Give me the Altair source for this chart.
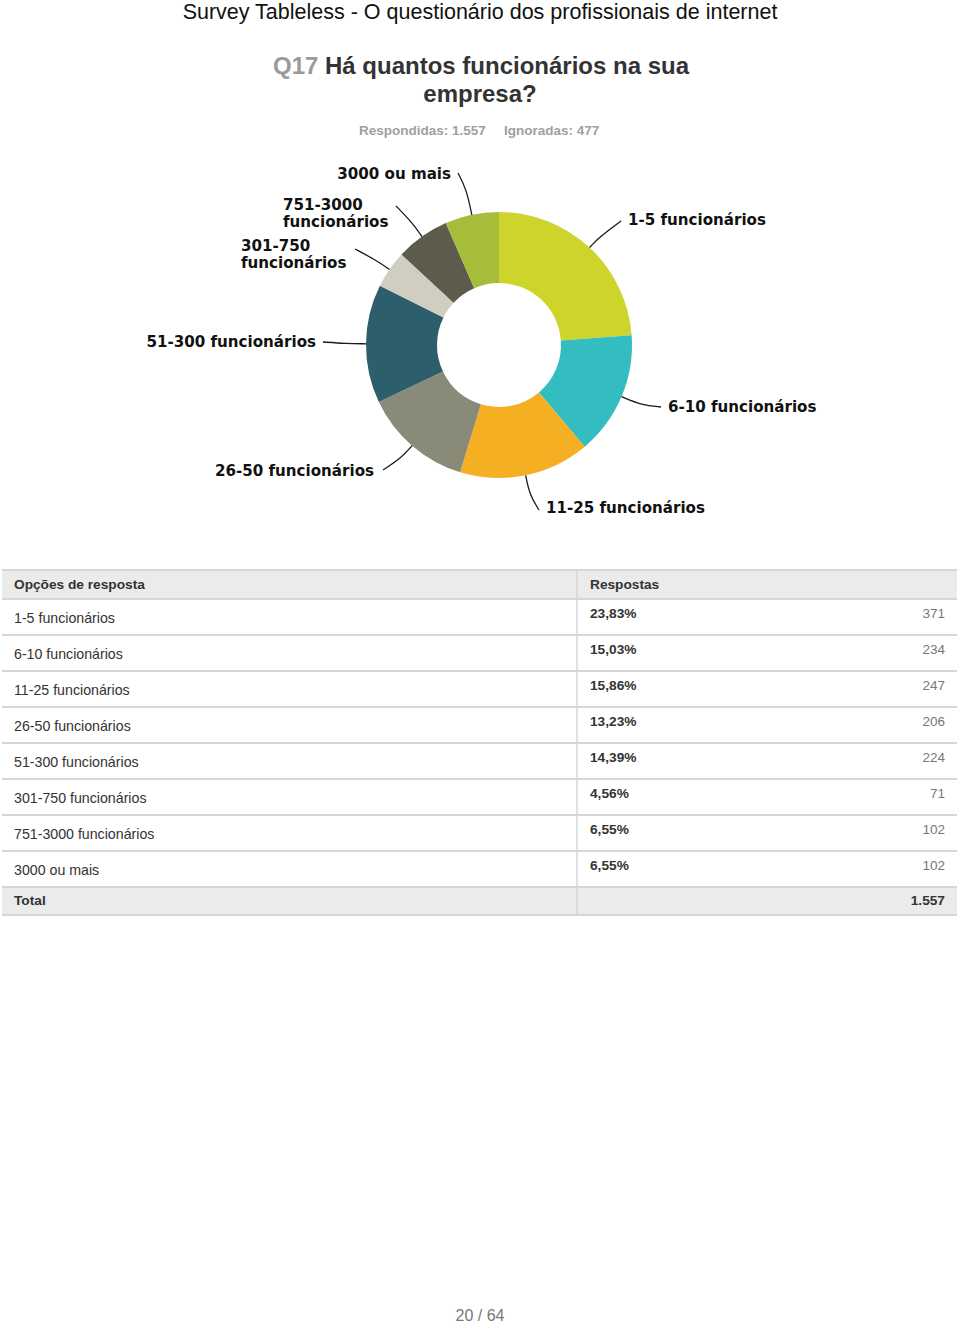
import altair as alt
import pandas as pd
import numpy as np

# ---------------- data ----------------
categories = ["1-5 funcionários", "6-10 funcionários", "11-25 funcionários",
              "26-50 funcionários", "51-300 funcionários", "301-750 funcionários",
              "751-3000 funcionários", "3000 ou mais"]
percent_labels = ["23,83%", "15,03%", "15,86%", "13,23%", "14,39%", "4,56%", "6,55%", "6,55%"]
counts = [371, 234, 247, 206, 224, 71, 102, 102]
total_label = "1.557"
chart_labels = ["1-5 funcionários", "6-10 funcionários", "11-25 funcionários",
                "26-50 funcionários", "51-300 funcionários", "301-750\nfuncionários",
                "751-3000\nfuncionários", "3000 ou mais"]
colors = ["#CDD42C", "#34BDC0", "#F5AF22", "#898A78", "#2D5E6C", "#CFCEC1", "#5D5B4C", "#A6BC3B"]

# ---------------- layout (pixels) ----------------
W, H = 960, 1323
CX, CY, R_OUT, R_IN = 499, 345, 133, 62
# label anchor (x, y of first line, align) and leader-line end point for each slice
label_layout = [
    (628, 220, "left", 621, 221),
    (668, 407, "left", 661, 407),
    (546, 508, "left", 539, 510),
    (374, 471, "right", 383, 470),
    (316, 342, "right", 323, 342),
    (241, 246, "left", 355, 249),
    (283, 205, "left", 396, 206),
    (451, 174, "right", 458, 173),
]
ctrl_len = [14, 22, 20, 16, 20, 16, 18, 26]

xs = alt.Scale(domain=[0, W], range=[0, W])
ys = alt.Scale(domain=[0, H], range=[0, H])

# ---------------- donut ----------------
pie_df = pd.DataFrame({"cat": categories, "count": counts, "order": list(range(len(counts)))})
donut = alt.Chart(pie_df).mark_arc(outerRadius=R_OUT, innerRadius=R_IN).encode(
    theta=alt.Theta("count:Q", stack=True),
    color=alt.Color("cat:N", scale=alt.Scale(domain=categories, range=colors), legend=None),
    order=alt.Order("order:Q"),
    x=alt.value(CX), y=alt.value(CY),
)

# leader lines computed from slice mid-angles
cnt = np.array(counts, dtype=float)
cum = np.cumsum(cnt) - cnt / 2
mid = cum / cnt.sum() * 2 * np.pi
rows = []
for i, a in enumerate(mid):
    sx, sy = CX + R_OUT * np.sin(a), CY - R_OUT * np.cos(a)
    mx, my = CX + (R_OUT + ctrl_len[i]) * np.sin(a), CY - (R_OUT + ctrl_len[i]) * np.cos(a)
    ex, ey = label_layout[i][3], label_layout[i][4]
    rows += [dict(cat=categories[i], k=0, px=sx, py=sy),
             dict(cat=categories[i], k=1, px=mx, py=my),
             dict(cat=categories[i], k=2, px=ex, py=ey)]
lines_df = pd.DataFrame(rows)
leaders = alt.Chart(lines_df).mark_line(interpolate="basis", color="#1a1a1a", strokeWidth=1.3).encode(
    x=alt.X("px:Q", scale=xs, axis=None),
    y=alt.Y("py:Q", scale=ys, axis=None),
    detail="cat:N", order="k:Q",
)

lab_df = pd.DataFrame({
    "label": chart_labels,
    "lx": [l[0] for l in label_layout],
    "ly": [l[1] for l in label_layout],
    "al": [l[2] for l in label_layout],
})
lab_layers = []
for al in ["left", "right"]:
    lab_layers.append(
        alt.Chart(lab_df).transform_filter(alt.datum.al == al).mark_text(
            align=al, baseline="middle", font="DejaVu Sans", fontWeight="bold",
            fontSize=15.1, color="#111111", lineBreak="\n", lineHeight=16.5,
        ).encode(
            x=alt.X("lx:Q", scale=xs, axis=None),
            y=alt.Y("ly:Q", scale=ys, axis=None),
            text="label:N",
        )
    )

# ---------------- table ----------------
T_LEFT, T_RIGHT, T_TOP, HEAD_H, ROW_H, COL_X = 2, 957, 570, 29, 36, 577
n = len(categories)
body_top = T_TOP + HEAD_H
tbl = pd.DataFrame({
    "cat": categories, "pct": percent_labels, "cnt": [str(c) for c in counts],
    "i": list(range(n)),
})
tbl["y0"] = body_top + tbl["i"] * ROW_H
tbl["ymid"] = tbl["y0"] + ROW_H / 2
total_top = body_top + n * ROW_H
total_bot = total_top + 28

bg_df = pd.DataFrame({"x0": [T_LEFT, T_LEFT], "x1": [T_RIGHT, T_RIGHT],
                      "y0": [T_TOP, total_top], "y1": [body_top, total_bot]})
bg = alt.Chart(bg_df).mark_rect(color="#EBEBEB").encode(
    x=alt.X("x0:Q", scale=xs, axis=None), x2="x1:Q",
    y=alt.Y("y0:Q", scale=ys, axis=None), y2="y1:Q",
)

hlines_y = [T_TOP] + [body_top + k * ROW_H for k in range(n + 1)] + [total_bot]
hl_df = pd.DataFrame({"y": hlines_y, "x0": T_LEFT, "x1": T_RIGHT})
hlines = alt.Chart(hl_df).mark_rule(color="#D6D6D6", strokeWidth=2).encode(
    x=alt.X("x0:Q", scale=xs, axis=None), x2="x1:Q",
    y=alt.Y("y:Q", scale=ys, axis=None),
)
vl_df = pd.DataFrame({"x": [COL_X], "y0": [T_TOP], "y1": [total_bot]})
vline = alt.Chart(vl_df).mark_rule(color="#D6D6D6", strokeWidth=1.5).encode(
    x=alt.X("x:Q", scale=xs, axis=None),
    y=alt.Y("y0:Q", scale=ys, axis=None), y2="y1:Q",
)

FONT = "Liberation Sans"
cat_text = alt.Chart(tbl).mark_text(align="left", baseline="middle", font=FONT,
                                    fontSize=14.2, color="#333333", dy=2).encode(
    x=alt.value(14),
    y=alt.Y("ymid:Q", scale=ys, axis=None),
    text="cat:N",
)
pct_text = alt.Chart(tbl).mark_text(align="left", baseline="middle", font=FONT,
                                    fontSize=13.7, fontWeight="bold", color="#333333", dy=-3).encode(
    x=alt.value(590),
    y=alt.Y("ymid:Q", scale=ys, axis=None),
    text="pct:N",
)
cnt_text = alt.Chart(tbl).mark_text(align="right", baseline="middle", font=FONT,
                                    fontSize=13.5, color="#777777", dy=-3).encode(
    x=alt.value(945),
    y=alt.Y("ymid:Q", scale=ys, axis=None),
    text="cnt:N",
)

head_df = pd.DataFrame({"t": ["Opções de resposta", "Respostas", "Total"],
                        "x": [14, 590, 14],
                        "y": [T_TOP + HEAD_H / 2, T_TOP + HEAD_H / 2, (total_top + total_bot) / 2]})
head_text = alt.Chart(head_df).mark_text(align="left", baseline="middle", font=FONT,
                                         fontSize=13.7, fontWeight="bold", color="#333333").encode(
    x=alt.X("x:Q", scale=xs, axis=None),
    y=alt.Y("y:Q", scale=ys, axis=None),
    text="t:N",
)
total_text = alt.Chart(pd.DataFrame({"t": [total_label]})).mark_text(
    align="right", baseline="middle", font=FONT, fontSize=13.7, fontWeight="bold", color="#333333").encode(
    x=alt.value(945), y=alt.value((total_top + total_bot) / 2), text="t:N")

# ---------------- page texts ----------------
def txt(s, x, y, size, color, weight="normal", align="center", font=FONT):
    return alt.Chart(pd.DataFrame({"t": [s]})).mark_text(
        align=align, baseline="middle", font=font, fontSize=size, fontWeight=weight, color=color
    ).encode(x=alt.value(x), y=alt.value(y), text="t:N")

page = [
    txt("Survey Tableless - O questionário dos profissionais de internet", 480, 13, 21.5, "#111111"),
    txt("Q17", 273, 67, 24, "#9A9A9A", "bold", "left"),
    txt("Há quantos funcionários na sua", 325, 67, 24, "#333333", "bold", "left"),
    txt("empresa?", 480, 95, 24, "#333333", "bold"),
    txt("Respondidas: 1.557", 359, 131, 13.5, "#A0A0A0", "bold", "left"),
    txt("Ignoradas: 477", 504, 131, 13.5, "#A0A0A0", "bold", "left"),
    txt("20 / 64", 480, 1316, 16, "#777777"),
]

chart = alt.layer(
    bg, hlines, vline, donut, leaders, *lab_layers,
    cat_text, pct_text, cnt_text, head_text, total_text, *page,
).properties(
    width=W, height=H, padding=0, background="white",
    autosize=alt.AutoSizeParams(type="none"),
).configure_view(stroke=None, strokeWidth=0)

chart.save("out.html", embed_options={"renderer": "svg", "actions": False})
